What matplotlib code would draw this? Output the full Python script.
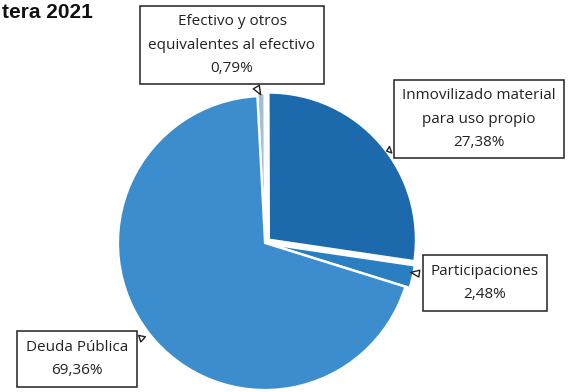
import matplotlib.pyplot as plt

plt.rcParams['font.family'] = ['Open Sans', 'DejaVu Sans']

# chart data
categories = ['Efectivo y otros\nequivalentes al efectivo', 'Inmovilizado material\npara uso propio',
              'Participaciones', 'Deuda Pública']
shares = [0.79, 27.38, 2.48, 69.36]
share_labels = ['0,79%', '27,38%', '2,48%', '69,36%']
colors = ['#a3bfd4', '#1c6aab', '#2a7fc1', '#3b8dcd']
explode = [0.02, 0.035, 0.03, 0.0]

W, H = 574, 392
CX, CY, R = 265, 243, 147  # pie centre and radius in pixels


def px(x, y):
  # pixel position -> data units (pie radius = 1)
  return (x - CX) / R, (CY - y) / R


fig = plt.figure(figsize=(W / 100, H / 100), dpi=100)
ax = fig.add_axes([0, 0, 1, 1])

wedges, _ = ax.pie(shares, colors=colors, explode=explode, startangle=93, counterclock=False,
                   radius=1, wedgeprops=dict(edgecolor='white', linewidth=1.6))

ax.set_xlim(-CX / R, (W - CX) / R)
ax.set_ylim(-(H - CY) / R, CY / R)
ax.set_aspect('equal')
ax.axis('off')

# callout boxes: (text centre, pointer tip)
boxes = [((232, 45), (262, 97)),
         ((479, 119), (384, 152)),
         ((485, 283), (408, 272)),
         ((77, 359), (148, 336))]

for name, lab, (c, tip) in zip(categories, share_labels, boxes):
  ax.annotate(name + '\n' + lab, xy=px(*tip), xytext=px(*c), ha='center', va='center',
              fontsize=11, color='#222222', linespacing=1.75,
              bbox=dict(boxstyle='square,pad=0.55', fc='white', ec='#222222', lw=1.1),
              arrowprops=dict(arrowstyle='wedge,tail_width=0.45,shrink_factor=0.5',
                              fc='white', ec='#222222', lw=1.0, relpos=(0.5, 0.5)))

fig.text(0.003, 0.992, 'tera 2021', ha='left', va='top', fontsize=15, fontweight='bold',
         family=['Liberation Sans', 'DejaVu Sans'], color='#111111')

fig.savefig('out.png', dpi=100)
